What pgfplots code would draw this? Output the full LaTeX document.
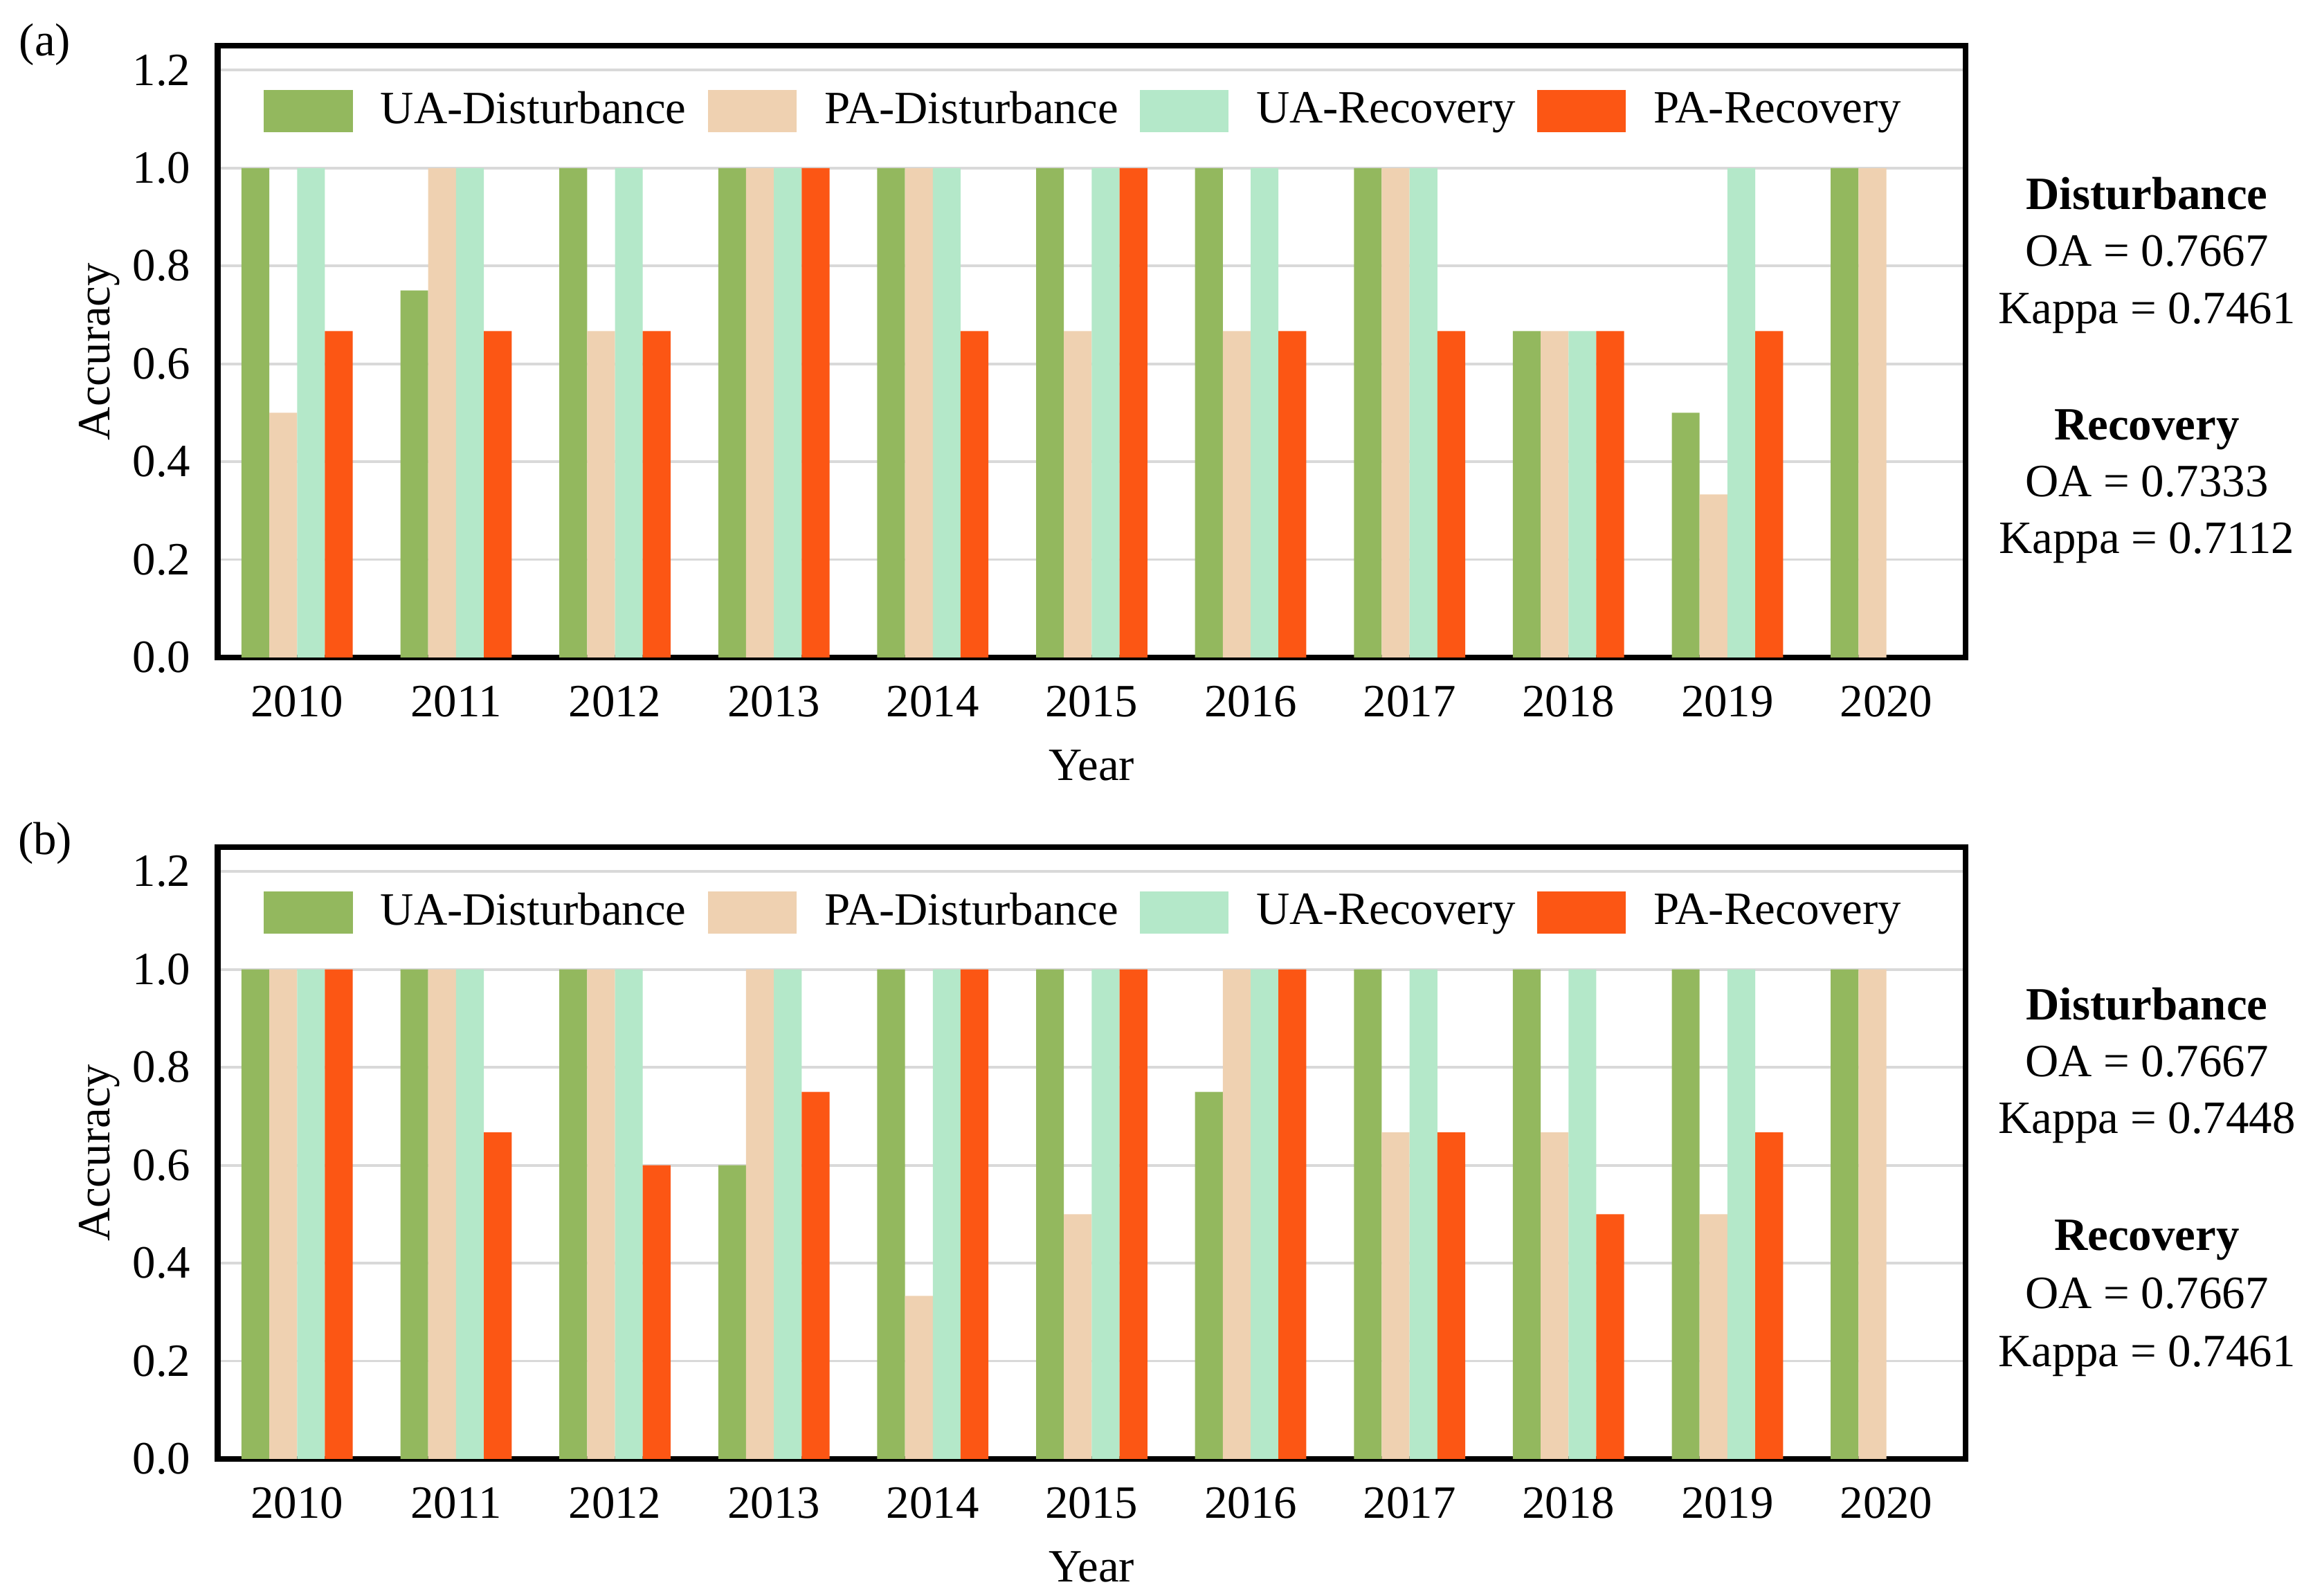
\documentclass[border=0pt]{standalone}
\usepackage{fontspec}
\setmainfont{Liberation Serif}
\usepackage{pgfplots}
\usepackage{pgfplotstable}
\pgfplotsset{compat=1.18}

\definecolor{uad}{HTML}{93B85E}
\definecolor{pad}{HTML}{EFD1B1}
\definecolor{uar}{HTML}{B4E8C9}
\definecolor{par}{HTML}{FC5614}

% (a)
\pgfplotstableread{
x  uad   pad   uar   par
0  1.000 0.500 1.000 0.667
1  0.750 1.000 1.000 0.667
2  1.000 0.667 1.000 0.667
3  1.000 1.000 1.000 1.000
4  1.000 1.000 1.000 0.667
5  1.000 0.667 1.000 1.000
6  1.000 0.667 1.000 0.667
7  1.000 1.000 1.000 0.667
8  0.667 0.667 0.667 0.667
9  0.500 0.333 1.000 0.667
10 1.000 1.000 nan   nan
}\dataA

% (b)
\pgfplotstableread{
x  uad   pad   uar   par
0  1.000 1.000 1.000 1.000
1  1.000 1.000 1.000 0.667
2  1.000 1.000 1.000 0.600
3  0.600 1.000 1.000 0.750
4  1.000 0.333 1.000 1.000
5  1.000 0.500 1.000 1.000
6  0.750 1.000 1.000 1.000
7  1.000 0.667 1.000 0.667
8  1.000 0.667 1.000 0.500
9  1.000 0.500 1.000 0.667
10 1.000 1.000 nan   nan
}\dataB

\pgfplotsset{
  every axis/.append style={font=\fontsize{10.4}{12.5}\selectfont},
  accstyle/.style={
    scale only axis,
    width=13.81cm, height=4.833cm,
    xmin=-0.5, xmax=10.5,
    ymin=0, ymax=1.25,
    xtick={0,1,2,3,4,5,6,7,8,9,10},
    xticklabels={2010,2011,2012,2013,2014,2015,2016,2017,2018,2019,2020},
    ytick={0,0.2,0.4,0.6,0.8,1.0,1.2},
    major tick length=0pt,
    ymajorgrids,
    grid style={line width=0.6pt, color=black!15},
    axis line style={line width=1.3pt},
    /pgf/number format/assume math mode=true,
    yticklabel style={/pgf/number format/fixed,
      /pgf/number format/fixed zerofill,
      /pgf/number format/precision=1, xshift=-0.09cm},
    xticklabel style={yshift=-0.10cm},
    ylabel={Accuracy},
    ylabel style={at={(axis description cs:-0.0675,0.5)}, anchor=center},
    xlabel={Year},
    xlabel style={at={(axis description cs:0.5,-0.126)}, anchor=north},
    legend columns=4,
    legend image code/.code={
      \fill[##1] (0cm,-0.165cm) rectangle (0.70cm,0.165cm);
      \path (0.85cm,0cm);},
    legend style={at={(0.4974,0.893)}, anchor=center, draw=none, fill=none,
      inner sep=0pt, outer sep=0pt,
      /tikz/every even column/.append style={column sep=0.10cm}},
  },
  uadbar/.style={ybar, bar width=0.175, bar shift=-0.2625, fill=uad, draw=none},
  padbar/.style={ybar, bar width=0.175, bar shift=-0.0875, fill=pad, draw=none},
  uarbar/.style={ybar, bar width=0.175, bar shift=0.0875, fill=uar, draw=none},
  parbar/.style={ybar, bar width=0.175, bar shift=0.2625, fill=par, draw=none},
}

\begin{document}
\begin{tikzpicture}[font=\fontsize{10.4}{12.5}\selectfont]
\useasboundingbox (-1.7195,-7.414) rectangle (16.482,5.194);

\begin{axis}[accstyle, at={(0,0)}, anchor=south west]
  \addplot[uadbar] table[x=x, y=uad] {\dataA};
  \addlegendentry{UA-Disturbance}
  \addplot[padbar] table[x=x, y=pad] {\dataA};
  \addlegendentry{PA-Disturbance}
  \addplot[uarbar] table[x=x, y=uar] {\dataA};
  \addlegendentry{UA-Recovery}
  \addplot[parbar] table[x=x, y=par] {\dataA};
  \addlegendentry{PA-Recovery}
\end{axis}

\begin{axis}[accstyle, at={(0,-6.331cm)}, anchor=south west]
  \addplot[uadbar] table[x=x, y=uad] {\dataB};
  \addlegendentry{UA-Disturbance}
  \addplot[padbar] table[x=x, y=pad] {\dataB};
  \addlegendentry{PA-Disturbance}
  \addplot[uarbar] table[x=x, y=uar] {\dataB};
  \addlegendentry{UA-Recovery}
  \addplot[parbar] table[x=x, y=par] {\dataB};
  \addlegendentry{PA-Recovery}
\end{axis}

% panel letters
\node at (-1.364,4.84) {(a)};
\node at (-1.364,-1.47) {(b)};

% summary statistics, panel (a)
\node[anchor=base] at (15.24,3.54) {\textbf{Disturbance}};
\node[anchor=base] at (15.24,3.09) {OA = 0.7667};
\node[anchor=base] at (15.24,2.64) {Kappa = 0.7461};
\node[anchor=base] at (15.24,1.72) {\textbf{Recovery}};
\node[anchor=base] at (15.24,1.27) {OA = 0.7333};
\node[anchor=base] at (15.24,0.82) {Kappa = 0.7112};

% summary statistics, panel (b)
\node[anchor=base] at (15.24,-2.861) {\textbf{Disturbance}};
\node[anchor=base] at (15.24,-3.311) {OA = 0.7667};
\node[anchor=base] at (15.24,-3.761) {Kappa = 0.7448};
\node[anchor=base] at (15.24,-4.681) {\textbf{Recovery}};
\node[anchor=base] at (15.24,-5.141) {OA = 0.7667};
\node[anchor=base] at (15.24,-5.601) {Kappa = 0.7461};
\end{tikzpicture}
\end{document}
